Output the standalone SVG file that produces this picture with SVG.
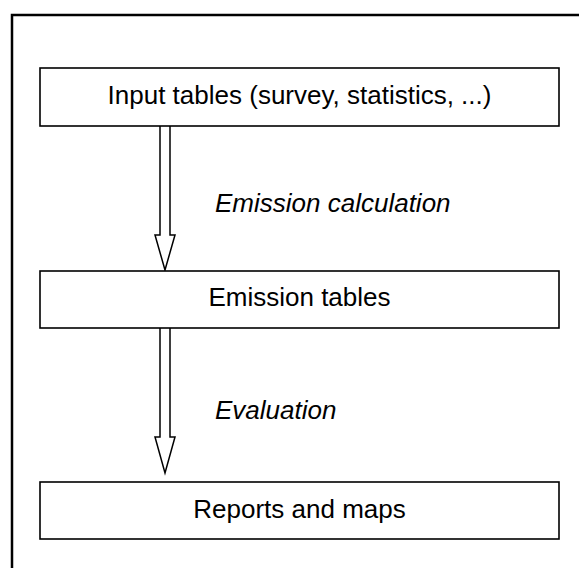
<svg xmlns="http://www.w3.org/2000/svg" width="579" height="568" viewBox="0 0 579 568">
  <style>
    .frame { fill: none; stroke: #000; stroke-width: 2.5; }
    .box { fill: #fff; stroke: #000; stroke-width: 1.6; }
    .arrow { fill: #fff; stroke: #000; stroke-width: 1.5; stroke-linejoin: miter; }
    .label { font-family: "Liberation Sans", Arial, sans-serif; font-size: 26px; fill: #000; }
    .step { font-family: "Liberation Sans", Arial, sans-serif; font-size: 26px; font-style: italic; fill: #000; }
  </style>
  <rect width="579" height="568" fill="#fff"/>
  <!-- outer frame (continues past the right and bottom edges) -->
  <rect class="frame" x="12" y="15" width="620" height="620"/>

  <g id="connectors">
    <path class="arrow" d="M160,126 L160,235 L155,235 L165,270 L175,235 L170,235 L170,126"/>
    <path class="arrow" d="M160,328 L160,437 L155,437 L165,473 L175,437 L170,437 L170,328"/>
    <text class="step" x="215" y="212">Emission calculation</text>
    <text class="step" x="215" y="419">Evaluation</text>
  </g>

  <g id="input-tables">
    <rect class="box" x="40" y="68" width="519" height="58"/>
    <text class="label" x="299.5" y="104" text-anchor="middle">Input tables (survey, statistics, ...)</text>
  </g>

  <g id="emission-tables">
    <rect class="box" x="40" y="271" width="519" height="57"/>
    <text class="label" x="299.5" y="306" text-anchor="middle">Emission tables</text>
  </g>

  <g id="reports-and-maps">
    <rect class="box" x="40" y="482" width="519" height="57"/>
    <text class="label" x="299.5" y="518" text-anchor="middle">Reports and maps</text>
  </g>
</svg>
